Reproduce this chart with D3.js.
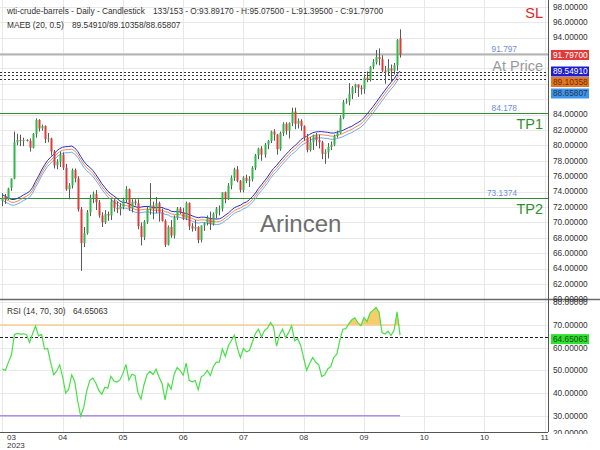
<!DOCTYPE html>
<html><head><meta charset="utf-8">
<script src="https://cdn.jsdelivr.net/npm/d3@7"></script>
<style>body{margin:0;background:#fff} svg{display:block;font-family:"Liberation Sans",Arial,sans-serif}</style>
</head><body><svg id="c" width="600" height="450"></svg>
<script>
// ---------- DATA ----------
// closes before the visible window (indicator warm-up)
const priorCloses = [76.4,75.9,73.4,74.1,77.1,78.5,78.1,79.7,80.1,79.1,78.6,78.5,76.3,76.2,74.0,75.4,76.3,75.7,77.1,
  77.7,78.2,79.7,80.5,77.6,76.7,75.7,76.7,74.8,71.3,67.6,68.4,66.7,67.6,69.3,70.9,70.0,69.3,72.8];
const opens = [72.8,73.3,73.0,74.5,75.7,80.4,80.7,80.6,80.7,80.6,79.7,81.5,83.3,82.2,82.5,80.8,80.9,79.2,77.4,77.9,
  78.8,77.1,74.3,74.8,76.8,75.7,71.7,67.3,68.6,71.3,73.2,73.7,72.6,70.9,70.0,71.1,70.9,72.8,71.9,71.7,
  72.0,72.9,74.3,71.8,72.7,72.5,69.5,68.1,70.1,71.7,72.2,71.7,72.5,71.3,70.2,67.1,69.4,68.3,70.6,71.8,
  71.3,70.5,72.5,69.5,69.2,69.4,67.7,69.6,69.9,70.6,69.8,71.1,71.8,71.8,73.9,73.0,74.8,75.8,76.9,75.4,
  74.2,75.8,75.4,75.6,77.1,78.7,79.6,78.8,80.1,80.6,81.8,81.4,79.5,81.6,82.8,81.9,82.9,84.4,82.8,83.2,
  82.5,81.0,79.4,80.4,81.3,80.7,80.4,78.9,79.1,79.8,80.1,81.2,81.6,83.6,85.6,85.7,86.7,87.5,87.9,87.5,
  87.3,88.8,88.5,90.2,90.8,91.5,91.2,89.7,89.6,90.0,89.7,90.4,93.8917];
const highs = [73.8,73.7,74.5,75.7,81.8,81.5,81.4,81.0,80.8,80.9,81.6,83.5,83.4,82.7,82.6,81.6,81.0,79.4,78.2,79.2,
  79.1,77.6,75.1,77.0,77.0,76.0,72.0,69.4,71.6,73.6,74.0,74.2,72.9,71.3,71.6,71.4,73.0,73.0,72.7,72.5,
  73.2,74.7,74.4,73.0,73.0,73.0,70.0,70.3,72.0,75.1,72.7,73.3,72.7,71.8,70.4,69.6,70.3,70.9,72.0,72.0,
  71.9,72.7,72.6,69.9,70.3,69.5,69.6,70.0,70.9,71.4,71.3,72.0,72.2,73.9,74.0,75.1,76.1,77.1,77.3,75.5,
  76.0,76.2,76.0,77.3,78.9,79.7,79.9,80.3,80.7,81.9,82.1,81.5,81.8,83.0,83.0,83.0,84.9,84.9,83.5,83.4,
  82.6,81.5,81.1,81.4,81.6,81.4,80.6,79.5,80.3,80.5,81.4,81.9,83.9,85.9,86.1,88.1,87.7,88.0,87.9,87.8,
  89.2,89.6,90.3,91.2,92.4,92.6,91.7,90.3,91.2,90.5,90.7,93.8,95.075];
const lows = [72.1,72.4,72.9,74.1,75.6,80.0,79.9,79.9,80.5,79.2,79.6,81.0,81.8,81.9,80.3,80.4,78.7,77.0,76.9,77.2,
  76.8,74.1,73.0,74.4,75.2,71.4,63.7,66.8,68.4,70.8,72.5,71.6,70.6,69.4,69.8,70.2,70.3,71.4,71.2,70.9,
  71.7,72.6,71.5,71.3,72.2,69.1,67.0,67.7,69.8,71.0,70.4,71.2,70.1,70.1,66.8,67.0,68.0,67.9,70.3,71.1,
  70.3,70.3,69.0,68.8,68.9,67.3,67.4,68.9,69.6,69.0,69.6,70.5,70.9,71.4,72.5,72.9,74.3,75.4,75.2,73.9,
  73.9,75.1,74.6,75.3,76.8,78.2,78.0,78.4,79.5,80.3,80.6,78.8,79.3,81.2,81.4,80.9,82.5,82.1,82.2,81.9,
  80.6,79.1,79.2,79.4,79.9,79.6,78.2,77.6,78.3,79.4,79.9,81.0,81.5,83.4,85.4,85.2,86.0,86.8,86.3,86.6,
  86.7,88.2,88.3,89.9,90.5,90.4,89.5,88.0,89.1,88.3,89.2,89.7,91.395];
const closes = [73.2,73.0,74.4,75.7,80.4,80.7,80.6,80.7,80.6,79.7,81.5,83.3,82.2,82.5,80.8,80.9,79.2,77.4,77.9,78.8,
  77.1,74.3,74.8,76.8,75.7,71.7,67.3,68.6,71.3,73.2,73.7,72.6,70.9,70.0,71.1,70.9,72.8,71.9,71.7,72.0,
  72.9,74.3,71.8,72.7,72.5,69.5,68.1,70.1,71.7,72.2,71.7,72.5,71.3,70.2,67.1,69.4,68.3,70.6,71.8,71.3,
  70.5,72.5,69.5,69.2,69.4,67.7,69.6,69.9,70.6,69.8,71.1,71.8,71.8,73.9,73.0,74.8,75.8,76.9,75.4,74.2,
  75.8,75.4,75.6,77.1,78.7,79.6,78.8,80.1,80.6,81.8,81.4,79.5,81.6,82.8,81.9,82.9,84.4,82.8,83.2,82.5,
  81.0,79.4,80.4,81.3,80.7,80.4,78.9,79.1,79.8,80.1,81.2,81.6,83.6,85.6,85.7,86.7,87.5,87.9,87.5,87.3,
  88.8,88.5,90.2,90.8,91.5,91.2,89.7,89.6,90.0,89.7,90.4,93.7,91.797];

const monthTickIndex = [0,20,40,60,80,100,120,140,160,180];
const monthTickLabels = ["03","04","05","06","07","08","09","10","10","11"];
const yearLabel = "2023";
const priceTicks = [60,62,64,66,68,70,72,74,76,78,80,82,84,86,88,90,92,94,96,98];
const rsiTicks = [20,30,40,50,60,70,80];

const lastPrice = 91.797, tp1 = 84.178, tp2 = 73.1374;
const maebValues = [89.54910, 89.10358, 88.65807];
const rsiLast = 64.65063;
const headerTitle = "wti-crude-barrels - Daily - Candlestick";
const headerOHLC = "133/153 - O:93.89170 - H:95.07500 - L:91.39500 - C:91.79700";
const maebTitle = "MAEB (20, 0.5)";
const maebText = "89.54910/89.10358/88.65807";
const rsiTitle = "RSI (14, 70, 30)";
const rsiText = "64.65063";

// ---------- INDICATORS ----------
const all = priorCloses.concat(closes), P = priorCloses.length;
const sma = closes.map((c,i)=>d3.mean(all.slice(P+i-19,P+i+1)));
let ag=0, al=0;
for(let k=1;k<=14;k++){const d=all[k]-all[k-1]; if(d>0)ag+=d; else al-=d;}
ag/=14; al/=14;
const rsiAll=[];
for(let k=15;k<all.length;k++){const d=all[k]-all[k-1]; ag=(ag*13+Math.max(d,0))/14; al=(al*13+Math.max(-d,0))/14; rsiAll[k]=100-100/(1+ag/al);}
const rsi = closes.map((c,i)=>rsiAll[P+i]);

// ---------- LAYOUT ----------
const svg = d3.select("#c");
const W = 548, mainTop = 0, mainBot = 299, rsiTop = 299, rsiBot = 432;
const x = d3.scaleLinear().domain([-0.8, 181.1]).range([0, W]);
const y = d3.scaleLinear().domain([60.05, 98.88]).range([mainBot, mainTop]);
const yr = d3.scaleLinear().domain([22.8, 81.47]).range([rsiBot, rsiTop]);
const idx = d3.range(closes.length);

const defs = svg.append("defs");
defs.append("clipPath").attr("id","cm").append("rect").attr("x",0).attr("y",mainTop).attr("width",W).attr("height",mainBot-mainTop);
defs.append("clipPath").attr("id","cr").append("rect").attr("x",0).attr("y",rsiTop).attr("width",W).attr("height",rsiBot-rsiTop);
defs.append("clipPath").attr("id","c70").append("rect").attr("x",0).attr("y",rsiTop).attr("width",W).attr("height",yr(70)-rsiTop);
defs.append("clipPath").attr("id","cax").append("rect").attr("x",W).attr("y",0).attr("width",600-W).attr("height",434);

// grid
const grid = svg.append("g").attr("stroke","#e8e8e8").attr("stroke-width",1);
grid.selectAll(".gh").data(priceTicks).join("line").attr("x1",0).attr("x2",W)
  .attr("y1",d=>Math.round(y(d))+0.5).attr("y2",d=>Math.round(y(d))+0.5);
grid.selectAll(".gr").data(rsiTicks).join("line").attr("x1",0).attr("x2",W)
  .attr("y1",d=>Math.round(yr(d))+0.5).attr("y2",d=>Math.round(yr(d))+0.5).attr("clip-path","url(#cr)");
grid.selectAll(".gv").data(monthTickIndex).join("line").attr("y1",0).attr("y2",rsiBot)
  .attr("x1",d=>Math.round(x(d))+0.5).attr("x2",d=>Math.round(x(d))+0.5);

// main panel
const gm = svg.append("g").attr("clip-path","url(#cm)");
gm.append("line").attr("x1",0).attr("x2",W).attr("y1",y(lastPrice)).attr("y2",y(lastPrice)).attr("stroke","#b4b4b4").attr("stroke-width",2);
[tp1,tp2].forEach(v=>gm.append("line").attr("x1",0).attr("x2",W).attr("y1",Math.round(y(v))+0.5).attr("y2",Math.round(y(v))+0.5).attr("stroke","#2f8f2f").attr("stroke-width",1.2));
maebValues.forEach(v=>gm.append("line").attr("x1",0).attr("x2",W).attr("y1",Math.round(y(v))+0.5).attr("y2",Math.round(y(v))+0.5).attr("stroke","#333").attr("stroke-width",1).attr("stroke-dasharray","2,2"));

const env = [[1.005,"#2b2bc8"],[1,"#f08a4b"],[0.995,"#6fa8ef"]];
env.forEach(([f,col])=>{
  gm.append("path").datum(idx).attr("fill","none").attr("stroke",col).attr("stroke-width",1)
    .attr("d",d3.line().x(i=>x(i)).y(i=>y(sma[i]*f)));
});

const cg = gm.append("g");
cg.selectAll(".w").data(idx).join("line").attr("x1",i=>Math.round(x(i))+0.5).attr("x2",i=>Math.round(x(i))+0.5)
  .attr("y1",i=>y(highs[i])).attr("y2",i=>y(lows[i])).attr("stroke","#5a5a5a").attr("stroke-width",1);
cg.selectAll(".b").data(idx).join("rect").attr("x",i=>Math.round(x(i))-0.5).attr("width",2)
  .attr("y",i=>y(Math.max(opens[i],closes[i])))
  .attr("height",i=>Math.max(1,Math.abs(y(opens[i])-y(closes[i]))))
  .attr("fill",i=>closes[i]>=opens[i]?"#33b54a":"#e03a3a");

// main texts
svg.append("text").attr("x",260).attr("y",232).attr("font-size",24).attr("fill","#6e6e6e").text("Arincen");
const lvl = svg.append("g").attr("font-size",8.3).attr("fill","#6d8cd8").attr("text-anchor","end");
lvl.append("text").attr("x",517).attr("y",y(lastPrice)-2.5).text(lastPrice.toFixed(3));
lvl.append("text").attr("x",517).attr("y",y(tp1)-2.5).text(tp1.toFixed(3));
lvl.append("text").attr("x",517).attr("y",y(tp2)-2.5).text(tp2.toFixed(4));
const big = svg.append("g").attr("font-size",14.5).attr("text-anchor","end");
big.append("text").attr("x",543).attr("y",18).attr("fill","#e02525").text("SL");
big.append("text").attr("x",543).attr("y",y(lastPrice)+16.5).attr("fill","#9a9a9a").text("At Price");
big.append("text").attr("x",543).attr("y",y(tp1)+16).attr("fill","#2f8f2f").text("TP1");
big.append("text").attr("x",543).attr("y",y(tp2)+16).attr("fill","#2f8f2f").text("TP2");

const hdr = svg.append("g").attr("font-size",8.3).attr("fill","#333");
hdr.append("text").attr("x",7).attr("y",13.5).text(headerTitle);
hdr.append("text").attr("x",153).attr("y",13.5).text(headerOHLC);
hdr.append("text").attr("x",7).attr("y",28).text(maebTitle);
hdr.append("text").attr("x",72).attr("y",28).text(maebText);

// RSI panel
const gr = svg.append("g").attr("clip-path","url(#cr)");
const xEnd = x(closes.length-1);
gr.append("path").datum(idx).attr("clip-path","url(#c70)").attr("fill","#f7c65a").attr("opacity",0.9)
  .attr("d",d3.area().x(i=>x(i)).y0(yr(70)).y1(i=>yr(rsi[i])));
gr.append("line").attr("x1",0).attr("x2",xEnd).attr("y1",yr(70)).attr("y2",yr(70)).attr("stroke","#f5cf90").attr("stroke-width",1.5);
gr.append("line").attr("x1",0).attr("x2",xEnd).attr("y1",yr(30)).attr("y2",yr(30)).attr("stroke","#b48de6").attr("stroke-width",1.5);
gr.append("line").attr("x1",0).attr("x2",W).attr("y1",Math.round(yr(rsiLast))+0.5).attr("y2",Math.round(yr(rsiLast))+0.5)
  .attr("stroke","#222").attr("stroke-dasharray","3,2");
gr.append("path").datum(idx).attr("fill","none").attr("stroke","#47e047").attr("stroke-width",1.2)
  .attr("d",d3.line().x(i=>x(i)).y(i=>yr(rsi[i])));
svg.append("text").attr("x",7).attr("y",314).attr("font-size",8.3).attr("fill","#333").text(rsiTitle);
svg.append("text").attr("x",73).attr("y",314).attr("font-size",8.3).attr("fill","#333").text(rsiText);

// frame / axes
svg.append("line").attr("x1",0).attr("x2",600).attr("y1",299.5).attr("y2",299.5).attr("stroke","#6a6a6a").attr("stroke-width",1.5);
svg.append("line").attr("x1",W+0.5).attr("x2",W+0.5).attr("y1",0).attr("y2",rsiBot).attr("stroke","#555");
svg.append("line").attr("x1",0).attr("x2",W).attr("y1",rsiBot+0.5).attr("y2",rsiBot+0.5).attr("stroke","#555");

// value boxes (stacked like the reference)
const boxes = [
  {t:lastPrice.toFixed(5), yc:55, bg:"#e23a3a", fg:"#fff"},
  {t:maebValues[0].toFixed(5), yc:71.5, bg:"#1c1cd0", fg:"#fff"},
  {t:maebValues[1].toFixed(5), yc:82, bg:"#e9761f", fg:"#553311"},
  {t:maebValues[2].toFixed(5), yc:93.5, bg:"#3f95ec", fg:"#1d3550"},
  {t:rsiLast.toFixed(5), yc:yr(rsiLast)+2, bg:"#2fe02f", fg:"#145214"}
];
const covered = v => boxes.slice(0,4).some(b=>Math.abs(y(v)-b.yc)<8);

const ax = svg.append("g").attr("font-size",8.3).attr("fill","#333").attr("clip-path","url(#cax)");
ax.selectAll(".pt").data(priceTicks.filter(v=>!covered(v))).join("text").attr("x",553).attr("y",d=>y(d)).attr("dy","0.35em").text(d=>d.toFixed(5));
ax.selectAll(".rt").data(rsiTicks).join("text").attr("x",553).attr("y",d=>Math.min(yr(d),433)).attr("dy","0.35em").text(d=>d.toFixed(5));

const bx = svg.append("g");
boxes.forEach(b=>{
  bx.append("rect").attr("x",551).attr("y",b.yc-5).attr("width",38).attr("height",10).attr("fill",b.bg);
  bx.append("text").attr("x",553).attr("y",b.yc).attr("dy","0.35em").attr("font-size",8.3).attr("fill",b.fg).text(b.t);
});

// x axis labels
const xl = svg.append("g").attr("font-size",8).attr("fill","#333");
monthTickIndex.forEach((m,k)=>{
  if(k===0){
    xl.append("text").attr("x",7).attr("y",439.5).text(monthTickLabels[k]);
    xl.append("text").attr("x",7).attr("y",448.3).text(yearLabel);
  } else {
    xl.append("text").attr("x",x(m)).attr("y",439.5).attr("text-anchor","middle").text(monthTickLabels[k]);
  }
});
</script></body></html>
